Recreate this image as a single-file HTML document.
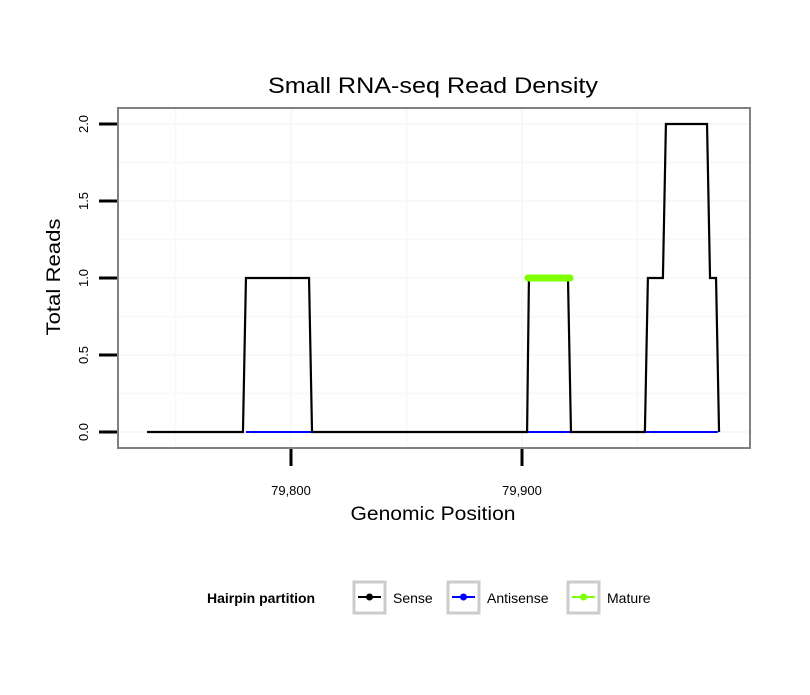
<!DOCTYPE html>
<html><head><meta charset="utf-8"><style>
body{margin:0;background:#fff;font-family:"Liberation Sans",sans-serif}
</style></head><body>
<svg id="chart" width="810" height="690" font-family="Liberation Sans, sans-serif">
<rect width="810" height="690" fill="#fff"/>
<text x="433" y="93" font-size="22" text-anchor="middle" textLength="330" lengthAdjust="spacingAndGlyphs">Small RNA-seq Read Density</text>
<g id="grid"></g>
<g id="series"></g>
<rect x="118" y="108" width="632" height="340" fill="none" stroke="#808080" stroke-width="2"/>
<g id="axes"></g>
<text x="433" y="520" font-size="19" text-anchor="middle" textLength="165" lengthAdjust="spacingAndGlyphs">Genomic Position</text>
<text transform="translate(60,277) rotate(-90)" font-size="19" text-anchor="middle" textLength="117" lengthAdjust="spacingAndGlyphs">Total Reads</text>
<g font-size="14">
<text x="207" y="603" font-weight="bold">Hairpin partition</text>
<g>
<rect x="354" y="582" width="31" height="31" fill="#fff" stroke="#ccc" stroke-width="3"/>
<line x1="358" y1="597" x2="381" y2="597" stroke="#000" stroke-width="2"/><circle cx="369.5" cy="597" r="3.5" fill="#000"/>
<text x="393" y="603">Sense</text></g>
<g>
<rect x="448" y="582" width="31" height="31" fill="#fff" stroke="#ccc" stroke-width="3"/>
<line x1="452" y1="597" x2="475" y2="597" stroke="#00f" stroke-width="2"/><circle cx="463.5" cy="597" r="3.5" fill="#00f"/>
<text x="487" y="603">Antisense</text></g>
<g>
<rect x="568" y="582" width="31" height="31" fill="#fff" stroke="#ccc" stroke-width="3"/>
<line x1="572" y1="597" x2="595" y2="597" stroke="#7fff00" stroke-width="2"/><circle cx="583.5" cy="597" r="3.5" fill="#7fff00"/>
<text x="607" y="603">Mature</text></g>
</g>
</svg>
<script>
const senseX=[79737.7,79779.2,79780.5,79807.8,79809.1,79902.2,79903.0,79919.9,79921.2,79953.2,79954.5,79961.0,79962.3,79980.1,79981.4,79984.0,79985.3];
const senseY=[0,0,1,1,0,0,1,1,0,0,1,1,2,2,1,1,0];
const antiSegments=[[79780.5,79808.7],[79902.6,79920.8],[79953.7,79984.8]];
const matureX=[79902.6,79920.8];
const matureY=[1,1];
const yTicks=[0,0.5,1,1.5,2];
const yTickLabels=["0.0","0.5","1.0","1.5","2.0"];
const xTicks=[79800,79900];
const xTickLabels=["79,800","79,900"];
const xMinor=[79750,79850,79950];
const yMinor=[0.25,0.75,1.25,1.75];
const NS="http://www.w3.org/2000/svg";
const sx=v=>291+(v-79800)*2.31;
const sy=v=>432-v*154;
function mk(tag,attrs,parent){const e=document.createElementNS(NS,tag);for(const k in attrs)e.setAttribute(k,attrs[k]);document.getElementById(parent).appendChild(e);return e;}
yMinor.concat(yTicks).forEach(v=>{const l=mk('line',{x1:119,x2:749,y1:sy(v),y2:sy(v),stroke:'#f8f8f8','stroke-width':2},'grid');

});
xMinor.concat(xTicks).forEach(v=>{const l=mk('line',{x1:sx(v),x2:sx(v),y1:109,y2:447,stroke:'#f8f8f8','stroke-width':2},'grid');

});
const sp=mk('polyline',{points:senseX.map((x,i)=>sx(x)+','+sy(senseY[i])).join(' '),fill:'none',stroke:'#000','stroke-width':2.2},'series');


antiSegments.forEach(s=>{const l=mk('line',{x1:sx(s[0]),x2:sx(s[1]),y1:sy(0),y2:sy(0),stroke:'#00f','stroke-width':2},'series');

});
const mp=mk('polyline',{points:matureX.map((x,i)=>sx(x)+','+sy(matureY[i])).join(' '),fill:'none',stroke:'#7fff00','stroke-width':7,'stroke-linecap':'round'},'series');


yTicks.forEach((v,i)=>{const t=mk('line',{x1:99,x2:117,y1:sy(v),y2:sy(v),stroke:'#000','stroke-width':3},'axes');


const tx=mk('text',{transform:`translate(88,${sy(v)}) rotate(-90)`,'font-size':13,'text-anchor':'middle'},'axes');tx.textContent=yTickLabels[i];

});
xTicks.forEach((v,i)=>{const t=mk('line',{x1:sx(v),x2:sx(v),y1:449,y2:466,stroke:'#000','stroke-width':3},'axes');


const tx=mk('text',{x:sx(v),y:495,'font-size':13,'text-anchor':'middle'},'axes');tx.textContent=xTickLabels[i];

});
</script>
</body></html>
